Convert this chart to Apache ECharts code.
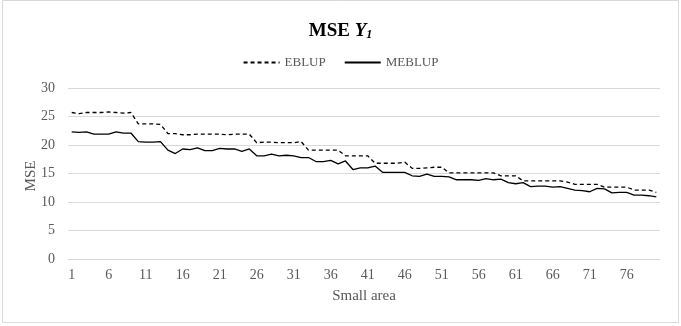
<!DOCTYPE html>
<html>
<head>
<meta charset="utf-8">
<script src="https://cdn.jsdelivr.net/npm/echarts@6/dist/echarts.min.js"></script>
<style>
  html, body { margin: 0; padding: 0; background: #fff; }
  #chart { width: 681px; height: 326px; }
</style>
</head>
<body>
<div id="chart"></div>
<script>
// small areas 1..80
const areas = [];
for (let i = 1; i <= 80; i++) areas.push(String(i));

const eblup = [
  25.7, 25.5, 25.7, 25.7, 25.7, 25.8, 25.7, 25.6, 25.7, 23.7,
  23.7, 23.7, 23.6, 22.0, 22.0, 21.8, 21.8, 21.9, 21.9, 21.9,
  21.9, 21.8, 21.9, 21.9, 21.9, 20.4, 20.5, 20.5, 20.4, 20.4,
  20.4, 20.6, 19.1, 19.1, 19.1, 19.1, 19.1, 18.1, 18.1, 18.1,
  18.1, 16.8, 16.8, 16.8, 16.8, 17.0, 15.9, 15.9, 16.0, 16.1,
  16.1, 15.1, 15.1, 15.1, 15.1, 15.1, 15.1, 15.1, 14.6, 14.6,
  14.6, 13.7, 13.7, 13.7, 13.7, 13.7, 13.7, 13.5, 13.1, 13.1,
  13.1, 13.1, 12.6, 12.6, 12.6, 12.6, 12.1, 12.1, 12.1, 11.7
];

const meblup = [
  22.3, 22.2, 22.3, 21.9, 21.9, 21.9, 22.3, 22.1, 22.1, 20.6,
  20.5, 20.5, 20.6, 19.1, 18.5, 19.3, 19.2, 19.5, 19.0, 19.0,
  19.4, 19.3, 19.3, 18.9, 19.3, 18.1, 18.1, 18.4, 18.1, 18.2,
  18.1, 17.8, 17.8, 17.1, 17.1, 17.3, 16.7, 17.2, 15.7, 16.0,
  16.0, 16.3, 15.2, 15.2, 15.2, 15.2, 14.6, 14.5, 14.9, 14.5,
  14.5, 14.4, 13.9, 13.9, 13.9, 13.8, 14.1, 13.9, 14.0, 13.4,
  13.2, 13.4, 12.7, 12.8, 12.8, 12.6, 12.7, 12.4, 12.1, 12.0,
  11.8, 12.4, 12.3, 11.6, 11.7, 11.7, 11.2, 11.2, 11.1, 10.9
];

const yTicks = { min: 0, max: 30, interval: 5 };

const serif = '"Liberation Serif", "DejaVu Serif", serif';
const textGray = '#595959';

const chart = echarts.init(document.getElementById('chart'), null, { renderer: 'canvas' });

chart.setOption({
  animation: false,
  backgroundColor: '#fff',
  title: {
    text: '{b|MSE }{i|Y}{s|1}',
    left: 'center',
    top: 16,
    textStyle: {
      rich: {
        b: { fontFamily: serif, fontSize: 19, fontWeight: 'bold', color: '#000' },
        i: { fontFamily: serif, fontSize: 19, fontWeight: 'bold', fontStyle: 'italic', color: '#000' },
        s: { fontFamily: serif, fontSize: 12, fontWeight: 'bold', fontStyle: 'italic', color: '#000', verticalAlign: 'bottom', padding: [8, 0, 0, 0] }
      }
    }
  },
  legend: {
    top: 51,
    left: 'center',
    itemWidth: 36,
    itemHeight: 10,
    itemGap: 18,
    itemStyle: { opacity: 0 },
    textStyle: { fontFamily: serif, fontSize: 13, color: textGray },
    data: ['EBLUP', 'MEBLUP']
  },
  grid: { left: 68, right: 21, top: 88, bottom: 67, containLabel: false },
  xAxis: {
    type: 'category',
    data: areas,
    boundaryGap: true,
    name: 'Small area',
    nameLocation: 'middle',
    nameGap: 30,
    nameTextStyle: { fontFamily: serif, fontSize: 15, color: textGray },
    axisLine: { lineStyle: { color: '#d9d9d9' } },
    axisTick: { show: false },
    axisLabel: {
      interval: 4,
      fontFamily: serif,
      fontSize: 14,
      color: textGray,
      margin: 9
    }
  },
  yAxis: {
    type: 'value',
    min: yTicks.min,
    max: yTicks.max,
    interval: yTicks.interval,
    axisLine: { show: false },
    axisTick: { show: false },
    axisLabel: { fontFamily: serif, fontSize: 14, color: textGray, margin: 13 },
    splitLine: { lineStyle: { color: '#d9d9d9' } }
  },
  series: [
    {
      name: 'EBLUP',
      type: 'line',
      data: eblup,
      symbol: 'none',
      lineStyle: { color: '#000', width: 1.3, type: [4, 3] },
      itemStyle: { color: '#000' }
    },
    {
      name: 'MEBLUP',
      type: 'line',
      data: meblup,
      symbol: 'none',
      lineStyle: { color: '#000', width: 1.3 },
      itemStyle: { color: '#000' }
    }
  ],
  graphic: [
    {
      type: 'rect',
      shape: { x: 2.5, y: 0.5, width: 676, height: 322 },
      style: { fill: 'none', stroke: '#d9d9d9', lineWidth: 1 },
      silent: true
    },
    {
      // y-axis title
      type: 'text',
      x: 31,
      y: 176,
      rotation: Math.PI / 2,
      style: {
        text: 'MSE',
        fontFamily: serif,
        fontSize: 15,
        fill: textGray,
        align: 'center',
        verticalAlign: 'middle'
      },
      silent: true
    }
  ]
});
</script>
</body>
</html>
